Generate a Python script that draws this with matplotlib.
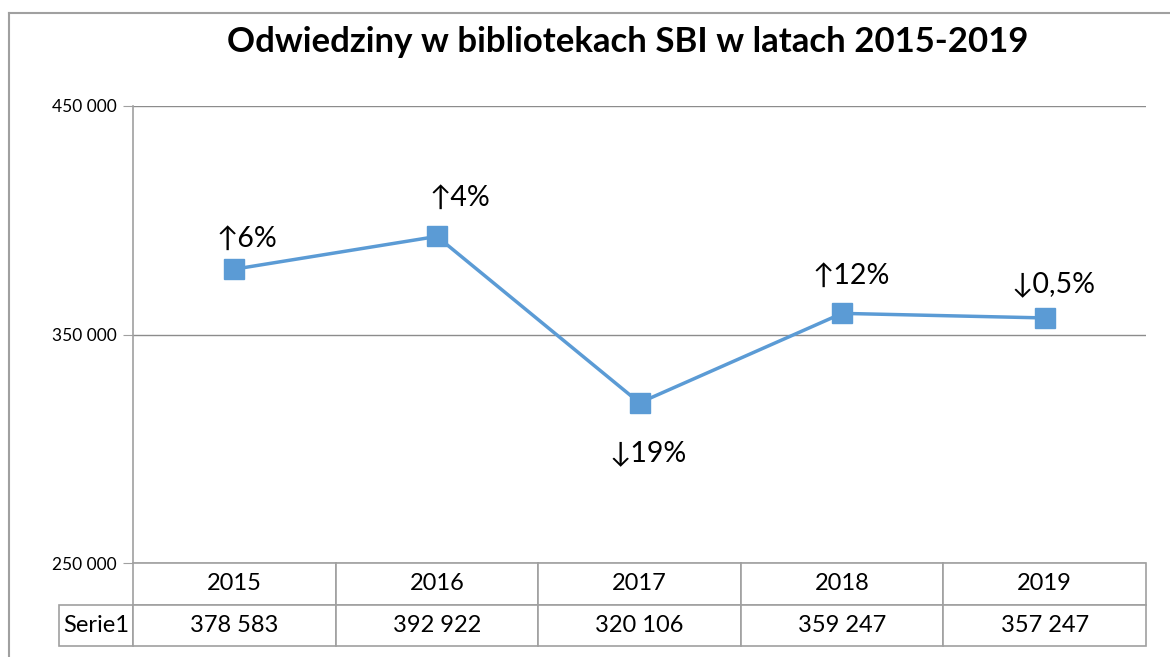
import matplotlib.pyplot as plt
from matplotlib.lines import Line2D

years = ["2015", "2016", "2017", "2018", "2019"]
visits = [378583, 392922, 320106, 359247, 357247]
changes = ["↑6%", "↑4%", "↓19%", "↑12%", "↓0,5%"]
series_name = "Serie1"
title = "Odwiedziny w bibliotekach SBI w latach 2015-2019"

# label offsets from the marker, in pixels (dx, dy)
offsets = [(13, 30), (23, 39), (9, -50), (9, 38), (9, 34)]

plt.rcParams['font.family'] = ['Lato', 'DejaVu Sans']

W, H = 1170, 657
fig = plt.figure(figsize=(W / 100, H / 100), dpi=100)
L, R, T, B = 133, 1146, 106, 563
ax = fig.add_axes([L / W, 1 - B / H, (R - L) / W, (B - T) / H])

grey = "#a0a0a0"
blue = "#5b9bd5"
x = list(range(len(years)))

ax.plot(x, visits, color=blue, lw=2.5, marker="s", ms=14, zorder=3)
px = 72 / 100
for i in x:
    dx, dy = offsets[i]
    ax.annotate(changes[i], (x[i], visits[i]), xytext=(dx * px, dy * px),
                textcoords="offset points", ha="center", va="center",
                fontsize=20.5, family=['Lato', 'DejaVu Sans'])

ax.set_xlim(-0.5, len(years) - 0.5)
ax.set_ylim(250000, 450000)
ax.set_yticks([250000, 350000, 450000])
ax.set_yticklabels([f"{v:,}".replace(",", " ") for v in [250000, 350000, 450000]])
ax.tick_params(axis="y", length=7, color=grey, labelsize=12.5, pad=5)
ax.set_xticks([])
ax.grid(axis="y", color="#8c8c8c", lw=1)
for s in ["top", "right", "bottom"]:
    ax.spines[s].set_visible(False)
ax.spines["left"].set_color(grey)
ax.spines["left"].set_linewidth(1.2)

# data table
row_h = 41.5 / (B - T)
tbl = ax.table(cellText=[[f"{v:,}".replace(",", " ") for v in visits]],
               rowLabels=[series_name], colLabels=years,
               cellLoc="center", rowLoc="left",
               bbox=[0, -2 * row_h, 1, 2 * row_h])
tbl.auto_set_font_size(False)
for (r, c), cell in tbl.get_celld().items():
    cell.set_edgecolor(grey)
    cell.set_linewidth(1.2)
    cell.get_text().set_fontsize(17)
    if c == -1:
        cell.set_width(80 / (R - L))
        cell.PAD = 0.06

fig.text((233 + 1022) / 2 / W, 1 - 42 / H, title, ha="center", va="center",
         fontsize=25, fontweight="bold")

# outer chart border
fig.add_artist(Line2D([9 / W, 9 / W], [0, 1 - 13 / H], color=grey, lw=1.5,
                      transform=fig.transFigure))
fig.add_artist(Line2D([9 / W, 1], [1 - 13 / H, 1 - 13 / H], color=grey, lw=1.5,
                      transform=fig.transFigure))

fig.savefig("out.png", dpi=100)
